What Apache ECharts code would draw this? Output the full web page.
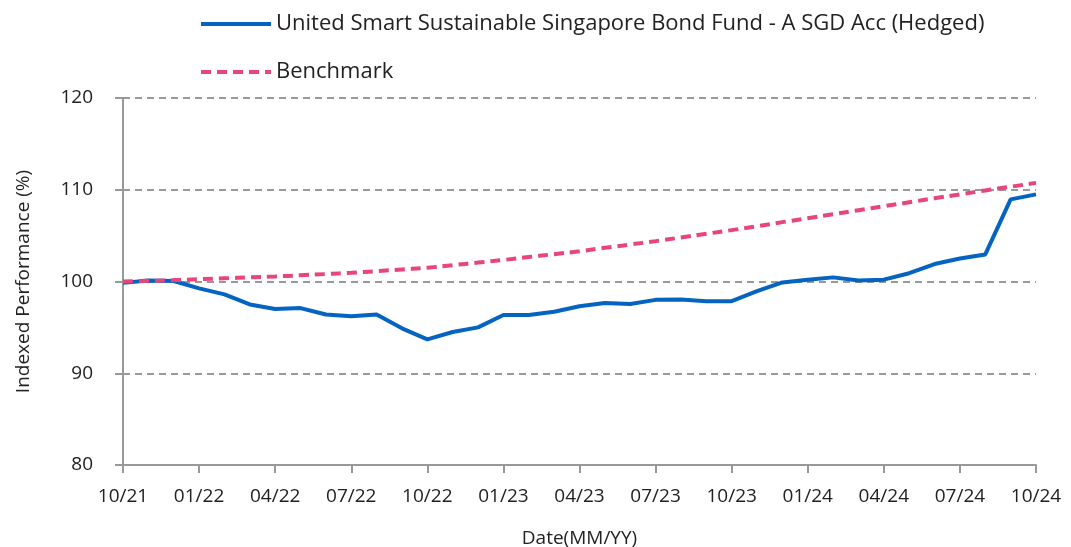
<!DOCTYPE html>
<html>
	<head>
		<meta charset="UTF-8">
		<title></title>
		<script src="https://cdn.jsdelivr.net/npm/echarts@6/dist/echarts.min.js" type="text/javascript" charset="utf-8"></script>
		<style>
			html, body { margin: 0; padding: 0; background: #fff; }
		</style>
	</head>
	<body>
		<div id="chart" style="width:1071px;height:547px;"></div>
	</body>
	<script type="text/javascript">
        // month labels, one per data point
        var months = ['10/21','11/21','12/21','01/22','02/22','03/22','04/22','05/22','06/22','07/22','08/22','09/22',
            '10/22','11/22','12/22','01/23','02/23','03/23','04/23','05/23','06/23','07/23','08/23','09/23',
            '10/23','11/23','12/23','01/24','02/24','03/24','04/24','05/24','06/24','07/24','08/24','09/24','10/24'];

        var fundName = 'United Smart Sustainable Singapore Bond Fund - A SGD Acc (Hedged)';
        var benchName = 'Benchmark';

        var fund = [99.85, 100.1, 100.05, 99.25, 98.6, 97.5, 97.0, 97.1, 96.4, 96.2, 96.4, 94.9,
            93.7, 94.5, 95.0, 96.35, 96.35, 96.7, 97.3, 97.65, 97.55, 98.0, 98.05, 97.85,
            97.85, 98.95, 99.9, 100.2, 100.45, 100.1, 100.2, 100.9, 101.9, 102.5, 102.95, 108.95, 109.5];

        var bench = [100.0, 100.07, 100.15, 100.25, 100.35, 100.45, 100.55, 100.68, 100.81, 100.95, 101.13, 101.31,
            101.5, 101.78, 102.06, 102.35, 102.67, 102.98, 103.3, 103.67, 104.03, 104.4, 104.8, 105.2,
            105.6, 106.03, 106.47, 106.9, 107.33, 107.77, 108.2, 108.63, 109.07, 109.5, 109.92, 110.33, 110.75];

        var font = 'Open Sans';
        var chart = echarts.init(document.getElementById('chart'), null, {renderer: 'canvas'});

        chart.setOption({
            animation: false,
            textStyle: {fontFamily: font},
            legend: {
                orient: 'vertical',
                left: 194,
                top: 8,
                itemWidth: 70,
                itemHeight: 20,
                itemGap: 26,
                itemStyle: {opacity: 0},
                lineStyle: {width: 4},
                textStyle: {fontFamily: font, fontSize: 22, color: '#222'},
                data: [fundName, benchName]
            },
            grid: {left: 123, right: 35, top: 98, bottom: 82, containLabel: false, outerBoundsMode: 'none'},
            xAxis: {
                type: 'category',
                data: months,
                boundaryGap: false,
                name: 'Date(MM/YY)',
                nameLocation: 'middle',
                nameGap: 64,
                nameTextStyle: {fontSize: 19, color: '#222'},
                axisLine: {lineStyle: {color: '#999', width: 2}},
                axisTick: {interval: 2, length: 8, lineStyle: {color: '#999', width: 2}},
                axisLabel: {interval: 2, margin: 22, fontSize: 19, color: '#222'},
                splitLine: {show: false}
            },
            yAxis: {
                type: 'value',
                min: 80,
                max: 120,
                interval: 10,
                name: 'Indexed Performance (%)',
                nameLocation: 'middle',
                nameGap: 90,
                nameTextStyle: {fontSize: 19, color: '#222'},
                axisLine: {show: true, lineStyle: {color: '#999', width: 2}},
                axisTick: {show: true, length: 8, lineStyle: {color: '#999', width: 2}},
                axisLabel: {margin: 30, fontSize: 19, color: '#222'},
                splitLine: {lineStyle: {color: '#999', width: 2, type: [7, 5]}}
            },
            series: [
                {
                    name: fundName,
                    type: 'line',
                    data: fund,
                    symbol: 'none',
                    z: 3,
                    itemStyle: {color: '#0563C1'},
                    lineStyle: {color: '#0563C1', width: 4}
                },
                {
                    name: benchName,
                    type: 'line',
                    data: bench,
                    symbol: 'none',
                    smooth: true,
                    z: 4,
                    itemStyle: {color: '#E8457A'},
                    lineStyle: {color: '#E8457A', width: 4, type: [10, 6]}
                }
            ]
        });
	</script>
</html>
